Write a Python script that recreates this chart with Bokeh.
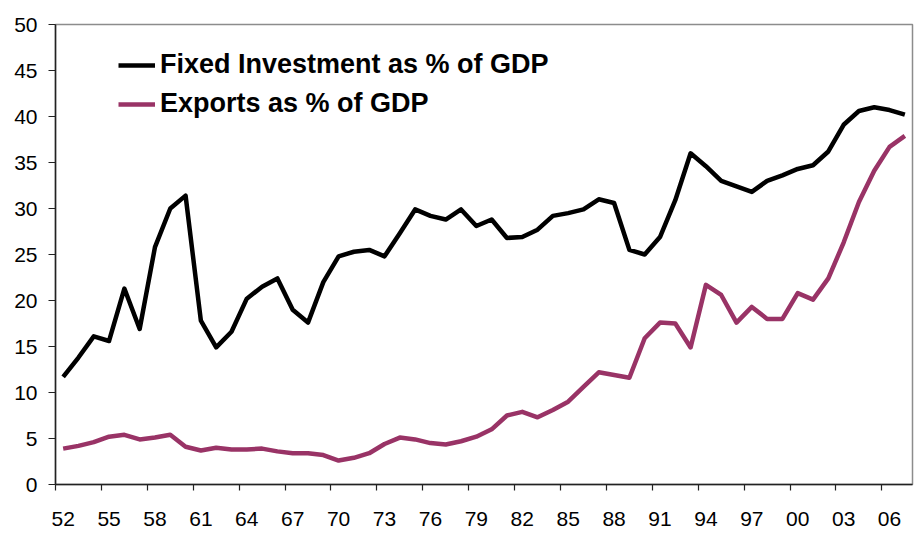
from bokeh.plotting import figure
from bokeh.models import ColumnDataSource, FixedTicker, Legend, LegendItem, Range1d
from bokeh.embed import file_html
from bokeh.resources import INLINE

years = list(range(1952, 2008))
fixed_investment = [
    11.7, 13.8, 16.1, 15.6, 21.3, 16.9, 25.8, 30.0, 31.4, 17.8,
    14.9, 16.6, 20.2, 21.5, 22.4, 19.0, 17.6, 22.0, 24.8, 25.3,
    25.5, 24.8, 27.3, 29.9, 29.2, 28.8, 29.9, 28.1, 28.8, 26.8,
    26.9, 27.7, 29.2, 29.5, 29.9, 31.0, 30.6, 25.5, 25.0, 26.9,
    30.9, 36.0, 34.6, 33.0, 32.4, 31.8, 33.0, 33.6, 34.3, 34.7,
    36.2, 39.1, 40.6, 41.0, 40.7, 40.2,
]
exports = [
    3.9, 4.2, 4.6, 5.2, 5.4, 4.9, 5.1, 5.4, 4.1, 3.7,
    4.0, 3.8, 3.8, 3.9, 3.6, 3.4, 3.4, 3.2, 2.6, 2.9,
    3.4, 4.4, 5.1, 4.9, 4.5, 4.35, 4.7, 5.2, 6.0, 7.5,
    7.9, 7.3, 8.1, 9.0, 10.6, 12.2, 11.9, 11.6, 15.9, 17.6,
    17.5, 14.9, 21.7, 20.6, 17.6, 19.3, 18.0, 18.0, 20.8, 20.1,
    22.4, 26.3, 30.7, 34.1, 36.7, 37.9,
]
tick_years = list(range(1952, 2008, 3))
tick_labels = ["%02d" % (y % 100) for y in tick_years]
series_names = ["Fixed Investment as % of GDP", "Exports as % of GDP"]
series_colors = ["#000000", "#993366"]

source = ColumnDataSource(dict(year=years, fi=fixed_investment, ex=exports))

p = figure(width=918, height=533, output_backend="svg", toolbar_location=None,
           x_range=Range1d(years[0] - 0.5, years[-1] + 0.5), y_range=Range1d(0, 50),
           min_border_left=55, min_border_right=6, min_border_top=24, min_border_bottom=49)

p.background_fill_color = "white"
p.border_fill_color = "white"
p.outline_line_color = "#8c8c8c"
p.outline_line_width = 1.5
p.xgrid.visible = False
p.ygrid.visible = False

r1 = p.line("year", "fi", source=source, line_color=series_colors[0], line_width=4.5, line_join="round")
r2 = p.line("year", "ex", source=source, line_color=series_colors[1], line_width=4.5, line_join="round")

font = "Liberation Sans"

xa = p.xaxis[0]
xa.ticker = FixedTicker(ticks=tick_years, minor_ticks=[y - 0.5 for y in tick_years])
xa.major_label_overrides = {y: lab for y, lab in zip(tick_years, tick_labels)}
xa.major_tick_out = 0
xa.major_tick_in = 0
xa.minor_tick_out = 6
xa.minor_tick_in = 0
xa.minor_tick_line_color = "#222222"
xa.minor_tick_line_width = 1.2
xa.axis_line_color = "#222222"
xa.axis_line_width = 1.5
xa.major_label_standoff = 21
xa.major_label_text_font = font
xa.major_label_text_font_size = "21px"
xa.major_label_text_color = "black"

ya = p.yaxis[0]
ya.ticker = FixedTicker(ticks=list(range(0, 51, 5)))
ya.major_tick_out = 7
ya.major_tick_in = 0
ya.minor_tick_line_color = None
ya.major_tick_line_color = "#222222"
ya.major_tick_line_width = 1.2
ya.axis_line_color = "#222222"
ya.axis_line_width = 1.5
ya.major_label_standoff = 11
ya.major_label_text_font = font
ya.major_label_text_font_size = "21px"
ya.major_label_text_color = "black"

legend = Legend(items=[LegendItem(label=series_names[0], renderers=[r1]),
                       LegendItem(label=series_names[1], renderers=[r2])],
                location=(63, 365), orientation="vertical")
legend.background_fill_alpha = 0
legend.border_line_color = None
legend.padding = 0
legend.margin = 0
legend.spacing = 8
legend.glyph_width = 37
legend.glyph_height = 30
legend.label_height = 30
legend.label_standoff = 5
legend.label_text_font = font
legend.label_text_font_style = "bold"
legend.label_text_font_size = "27px"
legend.label_text_color = "black"
p.add_layout(legend, "center")

open("out.html", "w").write(file_html(p, INLINE))
